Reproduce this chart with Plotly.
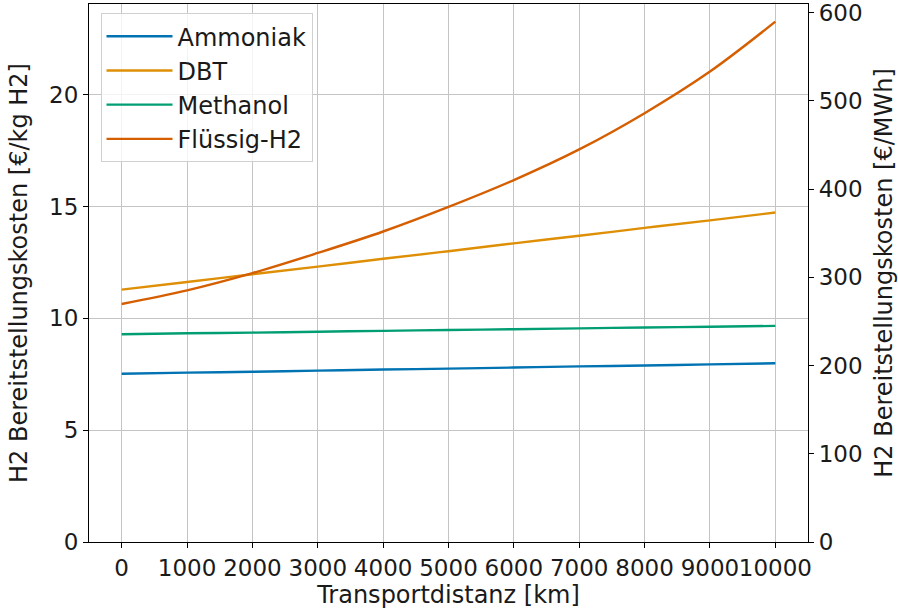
import plotly.graph_objects as go

distance_km = [0, 1000, 2000, 3000, 4000, 5000, 6000, 7000, 8000, 9000, 10000]
ammoniak = [7.52, 7.57, 7.61, 7.66, 7.71, 7.75, 7.80, 7.85, 7.89, 7.94, 7.99]
dbt = [11.28, 11.62, 11.97, 12.31, 12.66, 13.00, 13.35, 13.69, 14.04, 14.38, 14.73]
methanol = [9.29, 9.33, 9.36, 9.40, 9.44, 9.48, 9.51, 9.55, 9.59, 9.62, 9.66]
fluessig_h2 = [10.64, 11.25, 12.02, 12.92, 13.88, 14.98, 16.18, 17.55, 19.17, 21.03, 23.26]

series_names = ["Ammoniak", "DBT", "Methanol", "Flüssig-H2"]
series_values = [ammoniak, dbt, methanol, fluessig_h2]
colors = ["#0173B2", "#DE8F05", "#029E73", "#D55E00"]

x_ticks = [0, 1000, 2000, 3000, 4000, 5000, 6000, 7000, 8000, 9000, 10000]
y_left_ticks = [0, 5, 10, 15, 20]
y_right_ticks = [0, 100, 200, 300, 400, 500, 600]

KWH_PER_KG = 39.45  # conversion €/kg -> €/MWh
y_top = 24.05
y2_top = y_top / KWH_PER_KG * 1000

font = "DejaVu Sans"
fs_tick = 23
fs_text = 24
txt = "#1a1a1a"

fig = go.Figure()
for name, vals, c in zip(series_names, series_values, colors):
    fig.add_trace(go.Scatter(
        x=distance_km, y=vals, name=name, mode="lines",
        line=dict(color=c, width=2.4, shape="spline", smoothing=1.0),
        legendgroup=name,
    ))

# invisible trace to activate right axis
fig.add_trace(go.Scatter(x=[distance_km[0]], y=[fluessig_h2[0] / KWH_PER_KG * 1000],
                         yaxis="y2", mode="lines", showlegend=False,
                         line=dict(width=0), hoverinfo="skip"))

fig.update_layout(
    width=898, height=609,
    margin=dict(l=89, r=90, t=4, b=67),
    paper_bgcolor="white", plot_bgcolor="white",
    font=dict(family=font, size=fs_text, color=txt),
    showlegend=True,
    legend=dict(
        x=0.016, y=0.983, xanchor="left", yanchor="top",
        bgcolor="rgba(255,255,255,0.8)", bordercolor="#d0d0d0", borderwidth=1,
        font=dict(family=font, size=fs_text, color=txt),
        traceorder="grouped", tracegroupgap=0,
        itemwidth=66,
    ),
    xaxis=dict(
        range=[-500, 10500], tickvals=x_ticks, ticktext=[str(v) for v in x_ticks],
        tickangle=0,
        showgrid=True, gridcolor="#c4c4c4", gridwidth=1,
        showline=True, linecolor="black", linewidth=1.2, mirror=True,
        ticks="outside", ticklen=5, tickcolor="black", tickwidth=1.2,
        zeroline=False, automargin=False,
        title=dict(text="Transportdistanz [km]", standoff=0, font=dict(size=fs_text)),
        tickfont=dict(size=fs_tick),
    ),
    yaxis=dict(
        range=[0, y_top], tickvals=y_left_ticks,
        showgrid=True, gridcolor="#c4c4c4", gridwidth=1,
        showline=True, linecolor="black", linewidth=1.2, mirror=True,
        ticks="outside", ticklen=5, tickcolor="black", tickwidth=1.2,
        zeroline=False, automargin=False, ticklabeloverflow="allow",
        title=dict(text="H2 Bereitstellungskosten [€/kg H2]", standoff=14, font=dict(size=fs_text)),
        tickfont=dict(size=fs_tick),
    ),
    yaxis2=dict(
        range=[0, y2_top],
        overlaying="y", side="right", tickvals=y_right_ticks,
        showgrid=False, zeroline=False, automargin=False, ticklabeloverflow="allow",
        showline=True, linecolor="black", linewidth=1.2,
        ticks="outside", ticklen=5, tickcolor="black", tickwidth=1.2,
        title=dict(text="H2 Bereitstellungskosten [€/MWh]", standoff=16, font=dict(size=fs_text)),
        tickfont=dict(size=fs_tick),
    ),
)

fig.write_html("out.html", config={"displayModeBar": False},
               post_script="document.body.style.margin='0';")
